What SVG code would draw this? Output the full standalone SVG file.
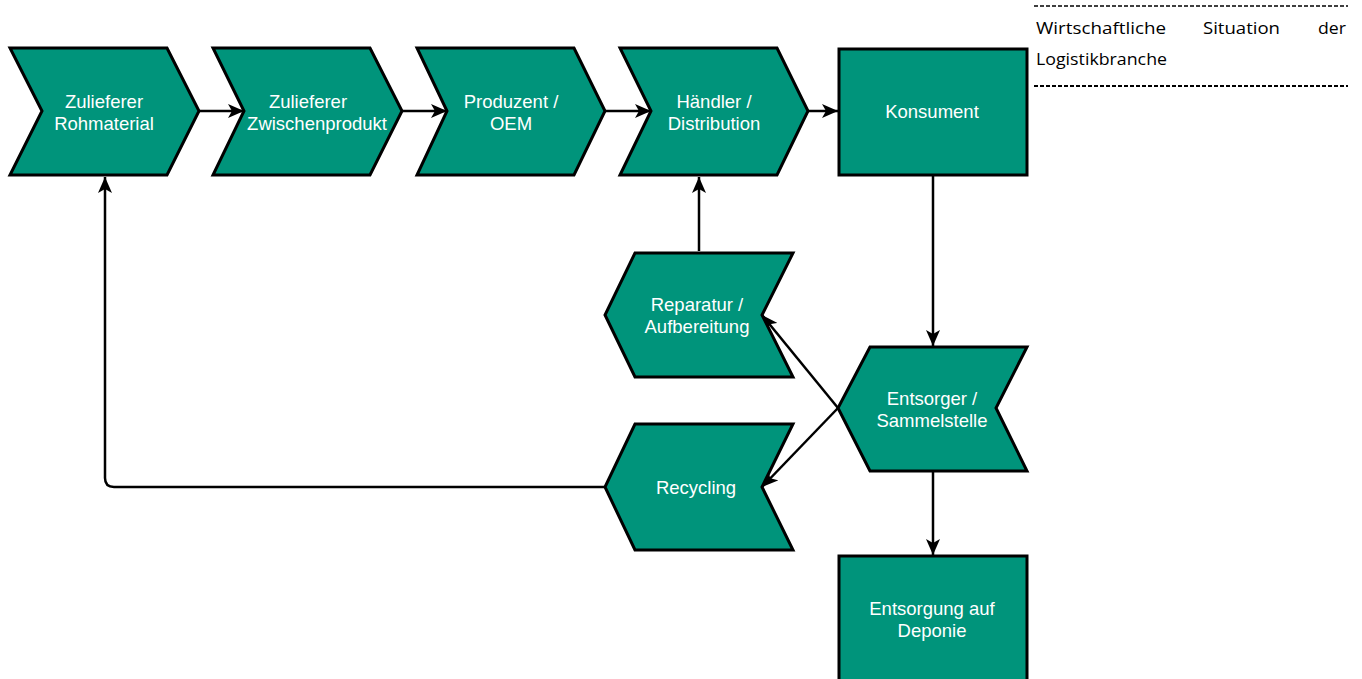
<svg xmlns="http://www.w3.org/2000/svg" width="1362" height="679" viewBox="0 0 1362 679">
<style>
.node{fill:#00947B;stroke:#000;stroke-width:3;stroke-linejoin:miter}
.lbl{font-family:"Liberation Sans",Arial,sans-serif;font-size:18.5px;fill:#fff;text-anchor:middle}
.edge{fill:none;stroke:#000;stroke-width:2.5}
.note{font-family:"Open Sans","Noto Sans",sans-serif;font-size:17px;fill:#000}
</style>
<defs>
<marker id="arr" markerUnits="userSpaceOnUse" markerWidth="18" markerHeight="14" refX="16" refY="7" orient="auto">
<path d="M0,0 L16,7 L0,14 L4,7 Z" fill="#000"/>
</marker>
</defs>
<rect width="1362" height="679" fill="#fff"/>

<g id="connectors">
<line class="edge" x1="199" y1="111" x2="244" y2="111" marker-end="url(#arr)"/>
<line class="edge" x1="402" y1="111" x2="447" y2="111" marker-end="url(#arr)"/>
<line class="edge" x1="605" y1="111" x2="651" y2="111" marker-end="url(#arr)"/>
<line class="edge" x1="808" y1="111" x2="838" y2="111" marker-end="url(#arr)"/>
<line class="edge" x1="933" y1="176" x2="933" y2="346" marker-end="url(#arr)"/>
<line class="edge" x1="933" y1="472" x2="933" y2="555" marker-end="url(#arr)"/>
<line class="edge" x1="838" y1="408" x2="762" y2="315" marker-end="url(#arr)"/>
<line class="edge" x1="838" y1="408" x2="762" y2="487" marker-end="url(#arr)"/>
<line class="edge" x1="699" y1="251" x2="699" y2="177" marker-end="url(#arr)"/>
<path class="edge" d="M605,487 L114,487 Q105,487 105,478 L105,177" marker-end="url(#arr)"/>
</g>

<g id="n1">
<polygon class="node" points="10,48 167,48 199,111 167,175 10,175 42,111"/>
<text class="lbl" x="104" y="108">Zulieferer</text>
<text class="lbl" x="104" y="130">Rohmaterial</text>
</g>
<g id="n2">
<polygon class="node" points="213,48 370,48 402,111 370,175 213,175 244,111"/>
<text class="lbl" x="308" y="108">Zulieferer</text>
<text class="lbl" x="317" y="130">Zwischenprodukt</text>
</g>
<g id="n3">
<polygon class="node" points="417,48 574,48 605,111 574,175 417,175 447,111"/>
<text class="lbl" x="511" y="108">Produzent /</text>
<text class="lbl" x="511" y="130">OEM</text>
</g>
<g id="n4">
<polygon class="node" points="620,48 777,48 808,111 777,175 620,175 651,111"/>
<text class="lbl" x="714" y="108">Händler /</text>
<text class="lbl" x="714" y="130">Distribution</text>
</g>
<g id="n5">
<rect class="node" x="839" y="49" width="188" height="126"/>
<text class="lbl" x="932" y="118">Konsument</text>
</g>
<g id="n6">
<polygon class="node" points="870,347 1027,347 996,408 1027,471 870,471 838,408"/>
<text class="lbl" x="932" y="405">Entsorger /</text>
<text class="lbl" x="932" y="427">Sammelstelle</text>
</g>
<g id="n7">
<polygon class="node" points="635,253 793,253 762,315 793,377 635,377 605,315"/>
<text class="lbl" x="697" y="311">Reparatur /</text>
<text class="lbl" x="697" y="333">Aufbereitung</text>
</g>
<g id="n8">
<polygon class="node" points="635,424 793,424 762,487 793,550 635,550 605,487"/>
<text class="lbl" x="696" y="494">Recycling</text>
</g>
<g id="n9">
<rect class="node" x="839" y="556" width="188" height="140"/>
<text class="lbl" x="932" y="615">Entsorgung auf</text>
<text class="lbl" x="932" y="637">Deponie</text>
</g>

<g id="note">
<line x1="1034" y1="6" x2="1348" y2="6" stroke="#000" stroke-width="1.5" stroke-dasharray="4 2"/>
<text class="note" x="1036" y="34" textLength="130" lengthAdjust="spacingAndGlyphs">Wirtschaftliche</text>
<text class="note" x="1203" y="34" textLength="77" lengthAdjust="spacingAndGlyphs">Situation</text>
<text class="note" x="1346" y="34" textLength="28" lengthAdjust="spacingAndGlyphs" text-anchor="end">der</text>
<text class="note" x="1036" y="65" textLength="131" lengthAdjust="spacingAndGlyphs">Logistikbranche</text>
<line x1="1034" y1="86" x2="1348" y2="86" stroke="#000" stroke-width="2.2" stroke-dasharray="4 2"/>
</g>
</svg>
